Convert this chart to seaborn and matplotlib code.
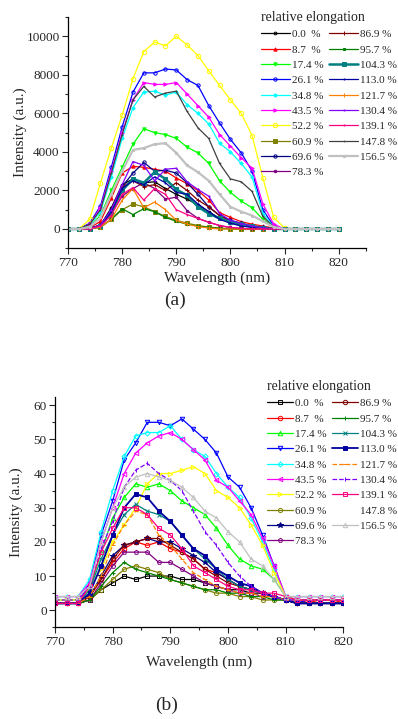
import matplotlib
matplotlib.use("Agg")
import matplotlib.pyplot as plt
from matplotlib.ticker import MultipleLocator
import seaborn as sns

sns.set_style("ticks")
plt.rcParams['font.family'] = ['Liberation Serif', 'DejaVu Serif']
plt.rcParams['mathtext.fontset'] = 'stix'

# shared wavelength grid (nm)
wavelength = [770, 772, 774, 776, 778, 780, 782, 784, 786, 788, 790, 792, 794,
              796, 798, 800, 802, 804, 806, 808, 810, 812, 814, 816, 818, 820]

elong_labels = ['0.0  %', '8.7  %', '17.4 %', '26.1 %', '34.8 %', '43.5 %', '52.2 %',
                '60.9 %', '69.6 %', '78.3 %', '86.9 %', '95.7 %', '104.3 %', '113.0 %',
                '121.7 %', '130.4 %', '139.1 %', '147.8 %', '156.5 %']

# Origin-like palette
colors_a = ['#000000', '#FF0000', '#00FF00', '#0000FF', '#00FFFF', '#FF00FF', '#FFFF00',
            '#808000', '#000080', '#800080', '#800000', '#008000', '#008080', '#0000A0',
            '#FF8000', '#8000FF', '#FF0080', '#404040', '#C0C0C0']
colors_b = colors_a[:17] + ['#FFFFFF', '#C0C0C0']

# ---- panel (a) intensities ----
a_000 = [0, 0, 30, 200, 1100, 2300, 2600, 2400, 2450, 2100, 1800, 1550, 1250, 900, 550, 320, 200, 100, 50, 0, 0, 0, 0, 0, 0, 0]
a_087 = [0, 0, 50, 400, 1600, 2900, 3250, 3200, 3100, 3000, 2650, 2350, 2000, 1500, 850, 600, 380, 250, 150, 50, 0, 0, 0, 0, 0, 0]
a_174 = [0, 0, 150, 700, 2000, 3200, 4400, 5200, 5000, 4900, 4700, 4250, 3950, 3400, 2500, 1900, 1450, 1100, 500, 100, 0, 0, 0, 0, 0, 0]
a_261 = [0, 0, 300, 1200, 3200, 5300, 7100, 8100, 8100, 8300, 8250, 7750, 7450, 6400, 5500, 4650, 3950, 3000, 1000, 150, 0, 0, 0, 0, 0, 0]
a_348 = [0, 0, 200, 900, 2700, 4700, 6300, 7100, 7150, 6950, 7100, 6450, 6000, 5450, 4450, 4000, 3400, 2700, 800, 100, 0, 0, 0, 0, 0, 0]
a_435 = [0, 0, 250, 1100, 3000, 5000, 6700, 7600, 7500, 7500, 7600, 7000, 6400, 5800, 4900, 4300, 3700, 3150, 1300, 250, 0, 0, 0, 0, 0, 0]
a_522 = [0, 0, 500, 2400, 4200, 5900, 7800, 9200, 9700, 9500, 10000, 9550, 9000, 8200, 7450, 6700, 6000, 4850, 2650, 600, 50, 0, 0, 0, 0, 0]
a_609 = [0, 0, 0, 100, 500, 1000, 1300, 1150, 900, 650, 450, 300, 180, 100, 50, 20, 0, 0, 0, 0, 0, 0, 0, 0, 0, 0]
a_696 = [0, 0, 30, 200, 1000, 2200, 2900, 3450, 3000, 3050, 2900, 2400, 1800, 1150, 700, 450, 300, 150, 80, 0, 0, 0, 0, 0, 0, 0]
a_783 = [0, 0, 20, 200, 800, 1700, 2100, 2400, 2100, 1550, 1650, 950, 550, 350, 180, 80, 30, 0, 0, 0, 0, 0, 0, 0, 0, 0]
a_869 = [0, 0, 30, 200, 1000, 2200, 2500, 2200, 2300, 2000, 2400, 2000, 1500, 1150, 700, 400, 250, 120, 50, 0, 0, 0, 0, 0, 0, 0]
a_957 = [0, 0, 0, 100, 500, 1050, 750, 1050, 900, 600, 400, 250, 150, 80, 30, 0, 0, 0, 0, 0, 0, 0, 0, 0, 0, 0]
a_1043 = [0, 0, 20, 150, 900, 2000, 2600, 2400, 2950, 2600, 2050, 1750, 1150, 800, 550, 380, 250, 150, 60, 0, 0, 0, 0, 0, 0, 0]
a_1130 = [0, 0, 20, 150, 900, 2100, 2500, 2300, 2700, 2400, 1900, 1800, 1300, 900, 500, 300, 150, 80, 30, 0, 0, 0, 0, 0, 0, 0]
a_1217 = [0, 0, 0, 100, 500, 1500, 2100, 1100, 1400, 1000, 450, 250, 120, 50, 0, 0, 0, 0, 0, 0, 0, 0, 0, 0, 0, 0]
a_1304 = [0, 0, 20, 200, 1000, 2300, 3500, 3300, 2500, 3100, 3150, 2450, 2050, 1700, 800, 450, 280, 150, 60, 0, 0, 0, 0, 0, 0, 0]
a_1391 = [0, 0, 10, 150, 700, 1800, 2150, 1500, 2100, 1800, 1000, 750, 550, 350, 180, 80, 30, 0, 0, 0, 0, 0, 0, 0, 0, 0]
a_1478 = [0, 0, 250, 1000, 2900, 4900, 6700, 7400, 6850, 7050, 7150, 6100, 5250, 4700, 3400, 2600, 2450, 1950, 650, 100, 0, 0, 0, 0, 0, 0]
a_1565 = [0, 0, 100, 600, 1800, 3000, 4100, 4200, 4400, 4450, 3950, 3300, 2950, 2500, 1800, 1150, 900, 700, 400, 100, 0, 0, 0, 0, 0, 0]

# ---- panel (b) intensities ----
b_000 = [2, 2, 2, 3, 6, 8, 10, 9, 10, 10, 10, 9, 9, 8, 7, 6, 6, 5, 5, 4, 3, 2, 2, 2, 2, 2]
b_087 = [2, 2, 2, 4, 9, 14, 18, 20, 19, 20, 18, 17, 15, 12, 11, 9, 7, 6, 5, 4, 3, 2, 3, 2, 2, 3]
b_174 = [3, 3, 3, 6, 17, 27, 33, 37, 36, 37, 35, 32, 30, 28, 24, 19, 15, 13, 12, 9, 4, 3, 3, 3, 3, 3]
b_261 = [2, 2, 2, 8, 22, 32, 44, 49, 55, 55, 54, 56, 53, 50, 46, 39, 36, 30, 22, 13, 4, 3, 2, 2, 2, 2]
b_348 = [4, 4, 4, 9, 23, 35, 45, 51, 52, 52, 54, 50, 47, 45, 40, 36, 33, 27, 20, 12, 4, 4, 4, 4, 4, 4]
b_435 = [4, 4, 4, 8, 20, 30, 40, 46, 49, 51, 52, 50, 47, 44, 38, 36, 32, 28, 21, 13, 4, 4, 4, 4, 4, 4]
b_522 = [3, 3, 3, 6, 12, 20, 25, 30, 37, 40, 40, 41, 42, 40, 35, 33, 30, 25, 19, 11, 4, 3, 3, 3, 3, 3]
b_609 = [2, 2, 2, 3, 6, 9, 12, 13, 12, 11, 9, 8, 7, 6, 5, 5, 4, 4, 3, 3, 3, 2, 2, 2, 2, 2]
b_696 = [2, 2, 2, 4, 10, 16, 19, 20, 21, 20, 20, 18, 16, 14, 11, 9, 7, 6, 5, 4, 3, 2, 2, 2, 2, 2]
b_783 = [2, 2, 2, 3, 8, 13, 17, 17, 17, 14, 14, 12, 10, 8, 7, 6, 5, 5, 4, 4, 3, 2, 2, 2, 2, 2]
b_869 = [2, 2, 2, 4, 9, 15, 19, 20, 21, 21, 19, 17, 15, 12, 10, 8, 7, 6, 5, 4, 3, 2, 2, 2, 2, 2]
b_957 = [2, 2, 2, 3, 7, 11, 14, 12, 11, 10, 9, 8, 7, 6, 6, 5, 5, 4, 4, 3, 3, 2, 2, 2, 2, 2]
b_1043 = [2, 2, 2, 6, 15, 22, 28, 31, 29, 28, 26, 22, 18, 15, 12, 9, 7, 6, 5, 4, 3, 3, 3, 3, 3, 3]
b_1130 = [2, 2, 2, 5, 13, 22, 30, 34, 33, 29, 26, 22, 18, 16, 12, 10, 8, 7, 5, 4, 3, 2, 2, 2, 2, 2]
b_1217 = [2, 2, 2, 4, 10, 19, 25, 29, 28, 22, 19, 15, 11, 9, 7, 6, 5, 5, 4, 4, 3, 3, 3, 3, 3, 3]
b_1304 = [3, 3, 3, 7, 18, 26, 36, 41, 43, 40, 38, 35, 29, 23, 19, 14, 10, 7, 5, 4, 3, 3, 3, 3, 3, 3]
b_1391 = [2, 2, 2, 7, 17, 24, 30, 30, 28, 24, 22, 18, 13, 11, 9, 7, 6, 6, 5, 5, 4, 3, 3, 3, 3, 3]
b_1478 = [3, 3, 3, 5, 12, 20, 25, 27, 27, 25, 23, 20, 17, 14, 11, 9, 7, 6, 5, 4, 3, 3, 3, 3, 3, 3]
b_1565 = [4, 4, 4, 7, 20, 30, 36, 39, 40, 39, 38, 36, 33, 29, 27, 23, 20, 15, 13, 9, 4, 4, 4, 4, 4, 4]

panel_a = [a_000, a_087, a_174, a_261, a_348, a_435, a_522, a_609, a_696, a_783,
           a_869, a_957, a_1043, a_1130, a_1217, a_1304, a_1391, a_1478, a_1565]
panel_b = [b_000, b_087, b_174, b_261, b_348, b_435, b_522, b_609, b_696, b_783,
           b_869, b_957, b_1043, b_1130, b_1217, b_1304, b_1391, b_1478, b_1565]

# (marker, markersize, linewidth, linestyle, filled)
styles_a = [('o', 2.0, 0.9, '-', False), ('^', 2.4, 0.9, '-', True), ('v', 2.4, 0.9, '-', True),
            ('o', 2.4, 0.9, '-', False), ('D', 1.8, 0.9, '-', True), ('>', 2.4, 0.9, '-', True),
            ('o', 3.2, 0.9, '-', False), ('s', 2.2, 0.9, '-', True), ('o', 2.4, 0.9, '-', False),
            ('o', 1.8, 0.9, '-', True), ('+', 2.6, 0.9, '-', True), ('s', 1.8, 0.9, '-', True),
            ('s', 2.6, 1.8, '-', True), ('.', 1.5, 0.9, '-', True), ('|', 2.2, 0.9, '-', True),
            ('.', 1.5, 0.9, '-', True), ('.', 1.5, 0.9, '-', True), ('.', 1.2, 0.9, '-', True),
            ('s', 1.8, 1.6, '-', True)]
styles_b = [('s', 3.2, 0.9, '-', False), ('o', 3.2, 0.9, '-', False), ('^', 3.2, 0.9, '-', False),
            ('v', 3.2, 0.9, '-', False), ('D', 2.6, 0.9, '-', False), ('<', 3.2, 0.9, '-', False),
            ('>', 3.2, 0.9, '-', False), ('o', 3.0, 0.9, '-', False), ('*', 4.0, 0.9, '-', True),
            ('p', 3.2, 0.9, '-', False), ('o', 3.2, 0.9, '-', False), ('+', 3.4, 0.9, '-', True),
            ('x', 3.0, 0.9, '-', True), ('s', 3.0, 1.3, '-', True), ('_', 3.4, 0.9, '--', True),
            ('|', 3.4, 0.9, '--', True), ('s', 3.2, 0.9, '-', False), ('', 0, 0.9, '-', True),
            ('^', 3.2, 0.9, '-', False)]


def draw_panel(ax, series, colors, styles):
    handles = []
    for vals, col, (mk, ms, lw, ls, filled) in zip(series, colors, styles):
        z = 1 if col == '#FFFFFF' else 2
        sns.lineplot(x=wavelength, y=vals, ax=ax, color=col, marker=mk if mk else None,
                     markersize=ms, linewidth=lw, linestyle=ls,
                     mfc=col if filled else 'none', mec=col, mew=0.7,
                     zorder=z, legend=False)
        handles.append(ax.lines[-1])
    return handles


def style_axes(ax, ylab_x, xlab_pad):
    sns.despine(ax=ax)
    ax.tick_params(which='major', direction='out', length=4, width=0.8, labelsize=9.5, pad=2)
    ax.tick_params(which='minor', direction='out', length=2.5, width=0.8)
    for sp in ['left', 'bottom']:
        ax.spines[sp].set_linewidth(0.9)
        ax.spines[sp].set_color('black')
    ax.set_xlabel('Wavelength (nm)', fontsize=11, labelpad=xlab_pad)
    ax.set_ylabel('Intensity (a.u.)', fontsize=11, va='center')
    ax.yaxis.set_label_coords(ylab_x, 0.5)


fig = plt.figure(figsize=(3.98, 7.19), dpi=100)
ax_a = fig.add_axes([0.1709, 0.6547, 0.748, 0.3217])
ax_b = fig.add_axes([0.1382, 0.1275, 0.7244, 0.3208])

# panel (a)
h_a = draw_panel(ax_a, panel_a, colors_a, styles_a)
ax_a.set_xlim(770, 825)
ax_a.set_ylim(-1000, 11000)
ax_a.set_xticks([770, 780, 790, 800, 810, 820])
ax_a.xaxis.set_minor_locator(MultipleLocator(5))
ax_a.set_yticks([0, 2000, 4000, 6000, 8000, 10000])
ax_a.yaxis.set_minor_locator(MultipleLocator(1000))
style_axes(ax_a, -0.161, 2)

# panel (b)
h_b = draw_panel(ax_b, panel_b, colors_b, styles_b)
ax_b.set_xlim(770, 820)
ax_b.set_ylim(-5, 62.5)
ax_b.set_xticks([770, 780, 790, 800, 810, 820])
ax_b.xaxis.set_minor_locator(MultipleLocator(5))
ax_b.set_yticks([0, 10, 20, 30, 40, 50, 60])
ax_b.yaxis.set_minor_locator(MultipleLocator(5))
style_axes(ax_b, -0.135, 6)

leg_kw = dict(ncol=2, frameon=False, fontsize=8, title='relative elongation',
              title_fontsize=10, alignment='left', loc='upper left', borderpad=0,
              labelspacing=0.5, handletextpad=0.2, columnspacing=0.5, borderaxespad=0)
fig.legend(h_a, elong_labels, bbox_to_anchor=(261 / 398, 1 - 11 / 719),
           handlelength=2.6, **leg_kw)
fig.legend(h_b, elong_labels, bbox_to_anchor=(267 / 398, 1 - 380 / 719),
           handlelength=2.3, **leg_kw)

fig.text(175 / 398, 1 - 300 / 719, '(a)', fontsize=14, ha='center', va='center')
fig.text(167 / 398, 1 - 705 / 719, '(b)', fontsize=14, ha='center', va='center')

fig.savefig('out.png', dpi=100)
